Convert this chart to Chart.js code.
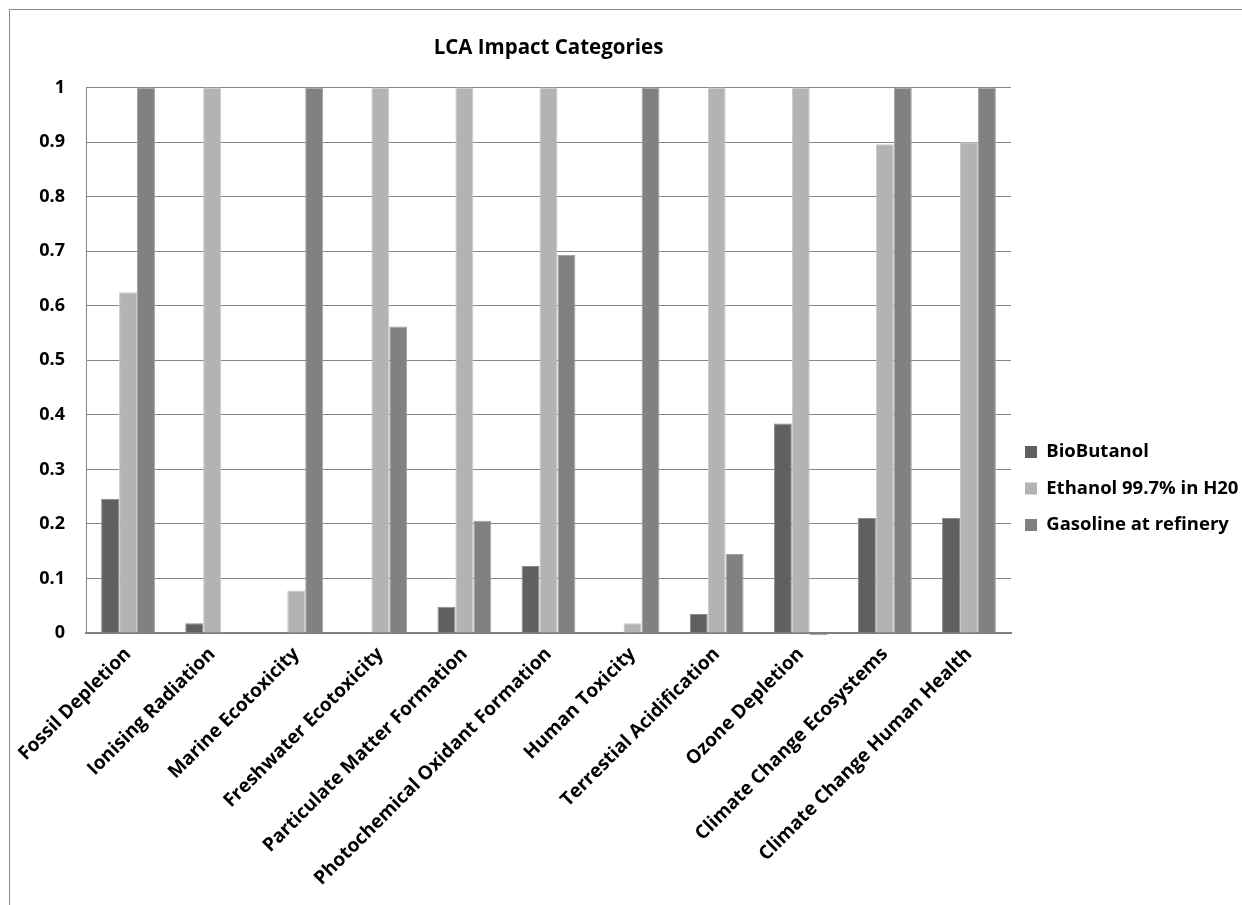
<!DOCTYPE html>
<html>
<head>
<meta charset="utf-8">
<script src="https://cdn.jsdelivr.net/npm/chart.js@4/dist/chart.umd.min.js"></script>
<style>
  html, body { margin: 0; padding: 0; background: #fff; overflow: hidden; }
  #wrap { position: relative; width: 1242px; height: 905px; }
  #frame { position: absolute; left: 9px; top: 9px; width: 1300px; height: 1000px; border: 1px solid #8a8a8a; box-sizing: border-box; pointer-events: none; }
  canvas { position: absolute; left: 0; top: 0; }
</style>
</head>
<body>
<div id="wrap">
  <canvas id="chart" width="1242" height="905"></canvas>
  <div id="frame"></div>
</div>
<script>
"use strict";

// categories along the x axis
const categories = [
  "Fossil Depletion",
  "Ionising Radiation",
  "Marine Ecotoxicity",
  "Freshwater Ecotoxicity",
  "Particulate Matter Formation",
  "Photochemical Oxidant Formation",
  "Human Toxicity",
  "Terrestial Acidification",
  "Ozone Depletion",
  "Climate Change Ecosystems",
  "Climate Change Human Health"
];

const seriesNames = ["BioButanol", "Ethanol 99.7% in H20", "Gasoline at refinery"];

// values
const bioButanol = [0.246, 0.018, 0, 0, 0.048, 0.123, 0, 0.035, 0.384, 0.211, 0.211];
const ethanol    = [0.625, 1, 0.078, 1, 1, 1, 0.018, 1, 1, 0.896, 0.9];
const gasoline   = [1, 0, 1, 0.562, 0.206, 0.693, 1, 0.145, -0.004, 1, 1];

const yTicks = ["0", "0.1", "0.2", "0.3", "0.4", "0.5", "0.6", "0.7", "0.8", "0.9", "1"];

const colors = ["#606060", "#b3b3b3", "#818181"];
const edges = ["#8a8a8a", "#cacaca", "#a2a2a2"];
const FONT = "'Open Sans'";

// move the legend to where it sits in the original
const legendShift = {
  id: "legendShift",
  afterLayout(chart) {
    const lg = chart.legend;
    const dx = -4, dy = 36;
    lg.left += dx; lg.right += dx;
    lg.top += dy; lg.bottom += dy;
  }
};

const chart = new Chart(document.getElementById("chart"), {
  type: "bar",
  data: {
    labels: categories,
    datasets: [bioButanol, ethanol, gasoline].map((vals, i) => ({
      label: seriesNames[i],
      data: vals,
      backgroundColor: colors[i],
      borderColor: edges[i],
      borderWidth: 1,
      categoryPercentage: 0.64,
      barPercentage: 1,
      clip: false
    }))
  },
  plugins: [legendShift],
  options: {
    responsive: false,
    animation: false,
    layout: { padding: 0 },
    plugins: {
      title: {
        display: true,
        text: "LCA Impact Categories",
        fullSize: false,
        color: "#000",
        font: { family: FONT, size: 20.5, weight: "bold" },
        padding: { top: 36, bottom: 27 }
      },
      legend: {
        position: "right",
        maxWidth: 231,
        labels: {
          color: "#000",
          font: { family: FONT, size: 18.5, weight: "bold" },
          boxWidth: 12,
          boxHeight: 12,
          padding: 18,
          generateLabels: (c) => Chart.defaults.plugins.legend.labels.generateLabels(c)
            .map(item => Object.assign(item, { lineWidth: 0 }))
        }
      },
      tooltip: { enabled: false }
    },
    scales: {
      x: {
        grid: { display: false, drawTicks: false },
        border: { display: true, color: "#808080", width: 2 },
        ticks: {
          color: "#000",
          font: { family: FONT, size: 19, weight: "bold" },
          minRotation: 45,
          maxRotation: 45,
          autoSkip: false,
          padding: 10
        },
        afterFit(scale) { scale.height = 272; }
      },
      y: {
        min: 0,
        max: 1,
        grid: { color: "#868686", lineWidth: 1, drawTicks: false },
        border: { display: true, color: "#868686", width: 1 },
        ticks: {
          stepSize: 0.1,
          color: "#000",
          font: { family: FONT, size: 18, weight: "bold" },
          padding: 21,
          callback: (v, i) => yTicks[i]
        },
        afterFit(scale) { scale.width = 86; }
      }
    }
  }
});
</script>
</body>
</html>
